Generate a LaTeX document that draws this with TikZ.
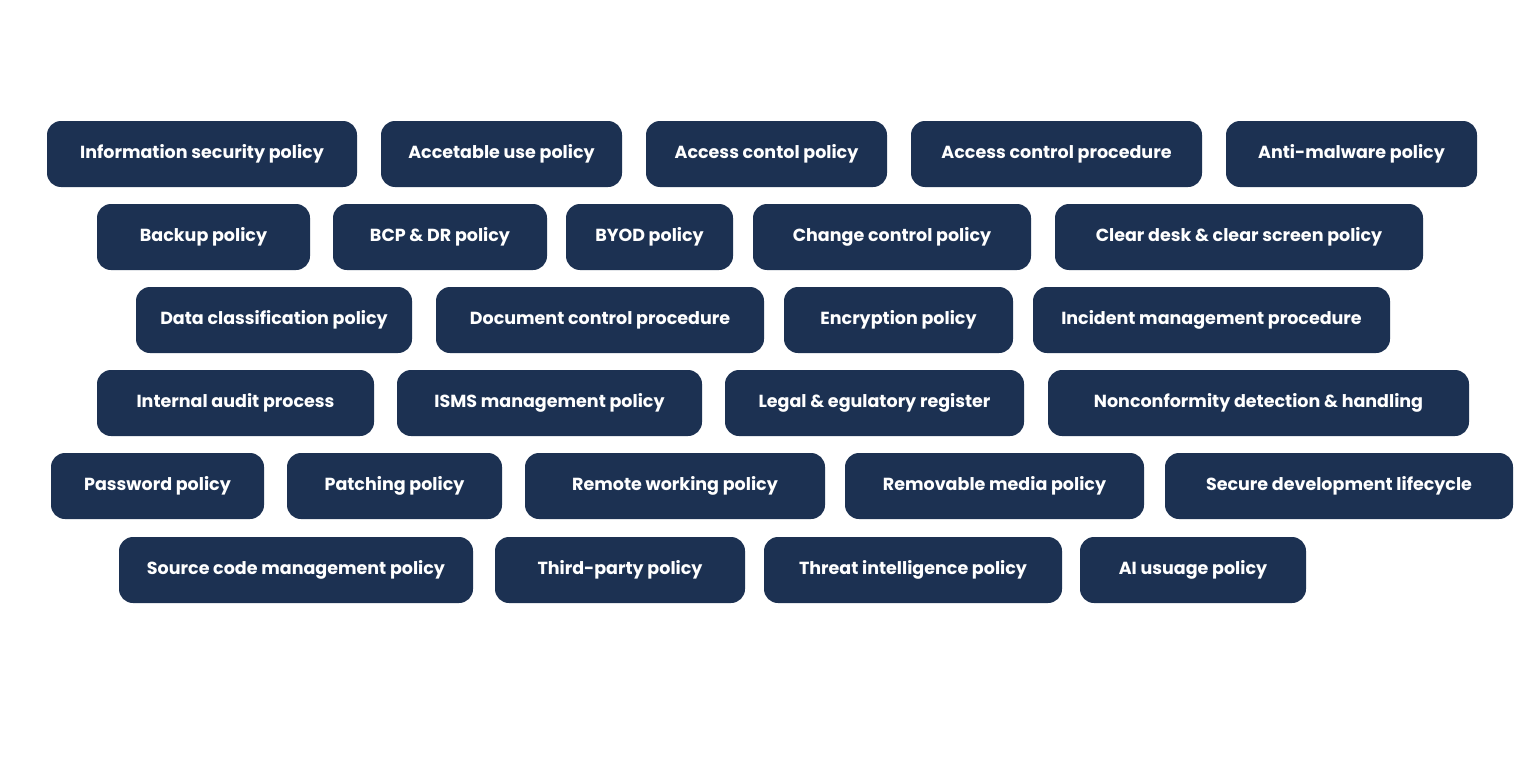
\documentclass[tikz,border=0pt]{standalone}
\usepackage{fontspec}
\setmainfont{Poppins}[BoldFont={Poppins Bold}]
\definecolor{navy}{HTML}{1C3152}
\newcommand{\pbox}[6]{%
  \node[pill, minimum width={(#3-#2)*1pt}] (#1) at ({(#2+#3)/2*1pt},{-(#4+33)*1pt}) {#6};}
\begin{document}
\begin{tikzpicture}[x=1pt,y=1pt,
  pill/.style={fill=navy, rounded corners=14pt, minimum height=66pt, inner sep=0pt,
    text=white, font=\fontsize{17.5}{20}\selectfont\bfseries}]
\useasboundingbox (0,0) rectangle (1536,-768);
\fill[white] (0,0) rectangle (1536,-768);
\pbox{a1}{47}{357}{121}{}{Information security policy}
\pbox{a2}{381}{622}{121}{}{Accetable use policy}
\pbox{a3}{646}{887}{121}{}{Access contol policy}
\pbox{a4}{911}{1202}{121}{}{Access control procedure}
\pbox{a5}{1226}{1477}{121}{}{Anti-malware policy}
\pbox{b1}{97}{310}{204}{}{Backup policy}
\pbox{b2}{333}{547}{204}{}{BCP \& DR policy}
\pbox{b3}{566}{733}{204}{}{BYOD policy}
\pbox{b4}{753}{1031}{204}{}{Change control policy}
\pbox{b5}{1055}{1423}{204}{}{Clear desk \& clear screen policy}
\pbox{c1}{136}{412}{287}{}{Data classification policy}
\pbox{c2}{436}{764}{287}{}{Document control procedure}
\pbox{c3}{784}{1013}{287}{}{Encryption policy}
\pbox{c4}{1033}{1390}{287}{}{Incident management procedure}
\pbox{d1}{97}{374}{370}{}{Internal audit process}
\pbox{d2}{397}{702}{370}{}{ISMS management policy}
\pbox{d3}{725}{1024}{370}{}{Legal \& egulatory register}
\pbox{d4}{1048}{1469}{370}{}{Nonconformity detection \& handling}
\pbox{e1}{51}{264}{453}{}{Password policy}
\pbox{e2}{287}{502}{453}{}{Patching policy}
\pbox{e3}{525}{825}{453}{}{Remote working policy}
\pbox{e4}{845}{1144}{453}{}{Removable media policy}
\pbox{e5}{1165}{1513}{453}{}{Secure development lifecycle}
\pbox{f1}{119}{473}{537}{}{Source code management policy}
\pbox{f2}{495}{745}{537}{}{Third-party policy}
\pbox{f3}{764}{1062}{537}{}{Threat intelligence policy}
\pbox{f4}{1080}{1306}{537}{}{AI usuage policy}
\end{tikzpicture}
\end{document}
